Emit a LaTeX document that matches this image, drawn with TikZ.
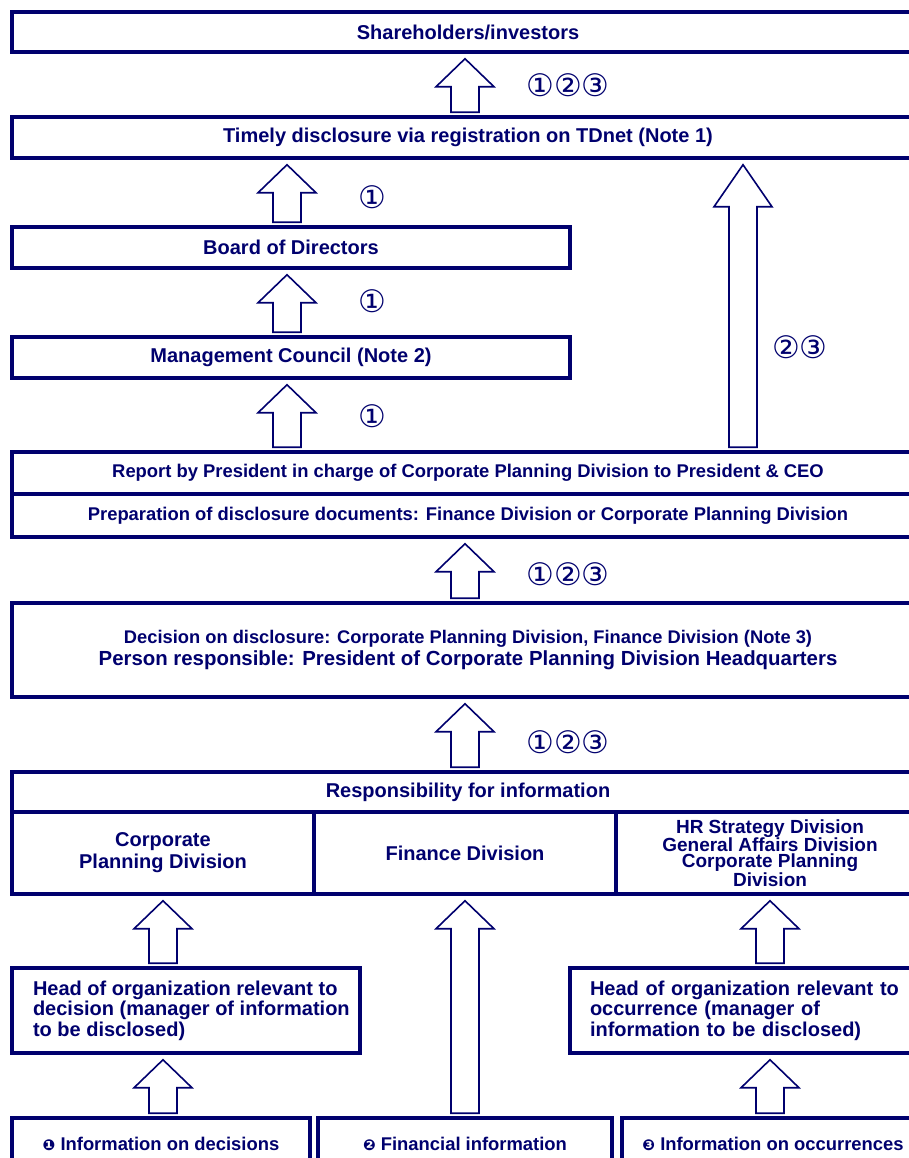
\documentclass[tikz,border=0pt]{standalone}
\usepackage{fontspec}
\setmainfont{Liberation Sans}
\newfontfamily\circfont{DejaVu Sans}
\usetikzlibrary{calc}

\definecolor{navy}{RGB}{0,0,110}

\tikzset{
  box/.style={draw=navy, line width=3.5pt, text=navy, inner sep=0pt, fill=white},
  blockarrow/.style={draw=navy, line width=1.6pt, fill=white, line join=miter},
  circnum/.style={text=navy, font=\circfont\fontsize{31}{31}\selectfont, inner sep=0pt},
  big/.style={font=\bfseries\fontsize{20}{22}\selectfont},
  mid/.style={font=\bfseries\fontsize{18.4}{20}\selectfont},
  headtext/.style={font=\bfseries\fontsize{20}{20.5}\selectfont, align=left}
}

\newcommand{\dnum}[1]{{\circfont\fontsize{15}{15}\selectfont #1}}

% block arrow: #1 head length, #2 x, #3 base anchor, #4 tip anchor
\newcommand{\upblock}[4][28]{%
  \draw[blockarrow] let \p1=(#3), \p2=(#4) in
    (#2pt-14pt,\y1+3pt) -- (#2pt-14pt,\y2-5pt-#1pt) -- (#2pt-29pt,\y2-5pt-#1pt)
    -- (#2pt,\y2-5pt) -- (#2pt+29pt,\y2-5pt-#1pt) -- (#2pt+14pt,\y2-5pt-#1pt)
    -- (#2pt+14pt,\y1+3pt) -- cycle;}

\begin{document}
\begin{tikzpicture}[x=1pt,y=-1pt]

\clip (0,0) rectangle (909,1158);
\fill[white] (0,0) rectangle (909,1158);

\node[box, big, minimum width=912pt, minimum height=40pt] (share) at (468,32) {Shareholders/investors};
\node[box, big, minimum width=912pt, minimum height=41pt] (tdnet) at (468,137.5) {Timely disclosure via registration on TDnet (Note 1)};
\node[box, big, minimum width=558pt, minimum height=41pt] (board) at (291,247.5) {Board of Directors};
\node[box, big, minimum width=558pt, minimum height=41pt] (mgmt) at (291,357.5) {Management Council (Note 2)};

\node[box, mid, minimum width=912pt, minimum height=42pt] (report) at (468,473) {Report by President in charge of Corporate Planning Division to President \& CEO};
\node[box, mid, minimum width=912pt, minimum height=43pt] (prep) at (468,515.5) {Preparation of disclosure documents: Finance Division or Corporate Planning Division};

\node[box, minimum width=912pt, minimum height=94pt, align=center] (decision) at (468,650)
  {{\bfseries\fontsize{18.3}{20}\selectfont Decision on disclosure: Corporate Planning Division, Finance Division (Note 3)}\\[3pt]
   {\bfseries\fontsize{20.4}{21}\selectfont Person responsible: President of Corporate Planning Division Headquarters}};

\node[box, big, minimum width=912pt, minimum height=40pt] (resp) at (468,792) {Responsibility for information};
\node[box, big, minimum width=302pt, minimum height=82pt, align=center] (respL) at (163,853) {Corporate\\Planning Division};
\node[box, big, minimum width=302pt, minimum height=82pt] (respM) at (465,853) {Finance Division};
\node[box, minimum width=308pt, minimum height=82pt, align=center,
  font=\bfseries\fontsize{19}{16}\selectfont] (respR) at (770,853)
  {HR Strategy Division\\General Affairs Division\\Corporate Planning\\Division};

\node[box, font=\bfseries\fontsize{20}{20.5}\selectfont, minimum width=348pt, minimum height=85pt] (headL) at (186,1010.5)
  {\hspace*{16pt}\parbox{322pt}{\raggedright Head of organization relevant to\\decision (manager of information\\to be disclosed)}};
\node[box, headtext, minimum width=354pt, minimum height=85pt, text width=314pt] (headR) at (747,1010.5)
  {Head of organization relevant to\\occurrence (manager of\\information to be disclosed)};

\node[box, mid, minimum width=298pt, minimum height=52pt] (infoL) at (161,1144)
  {\dnum{❶} Information on decisions};
\node[box, mid, minimum width=294pt, minimum height=52pt] (infoM) at (465,1144)
  {\dnum{❷} Financial information};
\node[box, mid, minimum width=302pt, minimum height=52pt] (infoR) at (773,1144)
  {\dnum{❸} Information on occurrences};

\upblock{465}{tdnet.north}{share.south}
\upblock{287}{board.north}{tdnet.south}
\upblock{287}{mgmt.north}{board.south}
\upblock{287}{report.north}{mgmt.south}
\upblock[42]{743}{report.north}{tdnet.south}
\upblock{465}{decision.north}{prep.south}
\upblock{465}{resp.north}{decision.south}
\upblock{163}{headL.north}{respL.south}
\upblock{465}{infoM.north}{respM.south}
\upblock{770}{headR.north}{respR.south}
\upblock{163}{infoL.north}{headL.south}
\upblock{770}{infoR.north}{headR.south}

\node[circnum] (c1) at (568,85) {①②③};
\node[circnum] (c2) at (372,197) {①};
\node[circnum] (c3) at (372,301) {①};
\node[circnum] (c4) at (372,416) {①};
\node[circnum] (c5) at (800,347) {②③};
\node[circnum] (c6) at (568,574) {①②③};
\node[circnum] (c7) at (568,742) {①②③};

\end{tikzpicture}
\end{document}
